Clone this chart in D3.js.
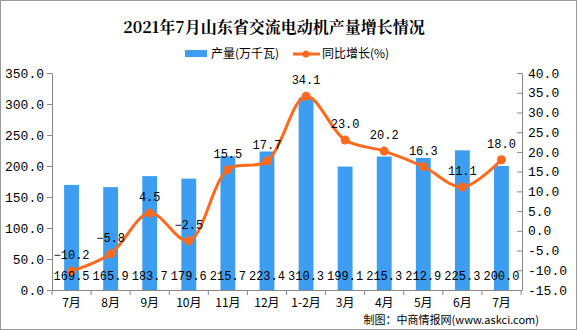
<!DOCTYPE html>
<html><head><meta charset="utf-8">
<script src="https://cdn.jsdelivr.net/npm/d3@7"></script>
<style>body{margin:0;background:#fff}svg{display:block}</style>
</head><body>
<script>
const categories = ["7月","8月","9月","10月","11月","12月","1-2月","3月","4月","5月","6月","7月"];
const output = [169.5,165.9,183.7,179.6,215.7,223.4,310.3,199.1,215.3,212.9,225.3,200.0];
const growth = [-10.2,-5.8,4.5,-2.5,15.5,17.7,34.1,23.0,20.2,16.3,11.1,18.0];
const leftTicks = [0,50,100,150,200,250,300,350];
const rightTicks = [-15,-10,-5,0,5,10,15,20,25,30,35,40];

const W=577,H=330;
const svg=d3.select("body").append("svg").attr("width",W).attr("height",H);
svg.append("rect").attr("x",0.5).attr("y",0.5).attr("width",W-1).attr("height",H-1).attr("fill","#fff").attr("stroke","#999");

const L=52,R=521,T=73,B=290;
const x=d3.scaleBand().domain(d3.range(categories.length)).range([L,R]).paddingInner(0.62).paddingOuter(0.31);
const xb=d3.scaleBand().domain(d3.range(categories.length)).range([L,R]);
const yl=d3.scaleLinear().domain([0,350]).range([B,T]);
const yr=d3.scaleLinear().domain([-15,40]).range([B,T]);
const mono="'Liberation Mono','DejaVu Sans Mono',monospace";
const cjk="'Noto Sans CJK SC',sans-serif";

// title
svg.append("text").attr("x",274).attr("y",33).attr("text-anchor","middle")
  .attr("font-family","'Noto Serif CJK SC','Noto Sans CJK SC',serif").attr("font-weight","bold").attr("font-size",16)
  .text("2021年7月山东省交流电动机产量增长情况");
// legend
svg.append("rect").attr("x",185).attr("y",50).attr("width",22).attr("height",7).attr("fill","#3D9DF0");
svg.append("text").attr("x",211).attr("y",58).attr("font-family",cjk).attr("font-size",12).text("产量(万千瓦)");
svg.append("line").attr("x1",293).attr("x2",320).attr("y1",54).attr("y2",54).attr("stroke","#FF6A1F").attr("stroke-width",3);
svg.append("circle").attr("cx",306).attr("cy",54).attr("r",3.5).attr("fill","#FF6A1F");
svg.append("text").attr("x",322).attr("y",58).attr("font-family",cjk).attr("font-size",12).text("同比增长(%)");

// bars
svg.append("g").selectAll("rect").data(output).join("rect")
  .attr("x",(d,i)=>x(i)).attr("width",x.bandwidth())
  .attr("y",d=>yl(d)).attr("height",d=>B-yl(d)).attr("fill","#3D9DF0");

// axes
const ga=svg.append("g").attr("transform",`translate(${L},0)`)
  .call(d3.axisLeft(yl).tickValues(leftTicks).tickFormat(d3.format(".1f")).tickSize(5).tickSizeOuter(0));
const gr=svg.append("g").attr("transform",`translate(${R+1},0)`)
  .call(d3.axisRight(yr).tickValues(rightTicks).tickFormat(d=>d3.format(".1f")(d).replace("−","-")).tickSize(0).tickSizeOuter(0));
gr.selectAll(".tick line").attr("x1",-5).attr("x2",0);
gr.selectAll(".tick text").attr("x",6);
const gx=svg.append("g").attr("transform",`translate(0,${B})`)
  .call(d3.axisBottom(xb).tickFormat(i=>categories[i]).tickSize(0).tickSizeOuter(0));
gx.selectAll(".tick line").remove();
gx.selectAll(".tick text").attr("dy","0.71em").attr("y",8).attr("font-family",cjk).attr("font-size",12).attr("fill","#000");
svg.append("g").selectAll("line").data(d3.range(categories.length+1)).join("line")
  .attr("x1",i=>L+i*xb.bandwidth()).attr("x2",i=>L+i*xb.bandwidth())
  .attr("y1",B).attr("y2",B+5).attr("stroke","#888");
[ga,gr].forEach(g=>{g.selectAll("text").attr("font-family",mono).attr("font-size",13).attr("fill","#000");});
[ga,gr,gx].forEach(g=>{g.select(".domain").attr("stroke","#888");g.selectAll(".tick line").attr("stroke","#888");});
gr.selectAll(".tick text").text(d=>d3.format(".1f")(d).replace("−","-"));

// line
const cx=i=>x(i)+x.bandwidth()/2;
svg.append("path").datum(growth).attr("fill","none").attr("stroke","#FF6A1F").attr("stroke-width",3)
  .attr("d",d3.line().x((d,i)=>cx(i)).y(d=>yr(d)).curve(d3.curveCatmullRom.alpha(0.5)));
svg.append("g").selectAll("circle").data(growth).join("circle")
  .attr("cx",(d,i)=>cx(i)).attr("cy",d=>yr(d)).attr("r",4.5).attr("fill","#FF6A1F");

// labels
svg.append("g").selectAll("text").data(growth).join("text")
  .attr("x",(d,i)=>cx(i)).attr("y",d=>yr(d)-12).attr("text-anchor","middle")
  .attr("font-family",mono).attr("font-size",12).text(d=>d3.format(".1f")(d));
svg.append("g").selectAll("text").data(output).join("text")
  .attr("x",(d,i)=>cx(i)).attr("y",280).attr("text-anchor","middle")
  .attr("font-family",mono).attr("font-size",12).text(d=>d3.format(".1f")(d));

// source
svg.append("text").attr("x",539).attr("y",324).attr("text-anchor","end").attr("font-family",cjk).attr("font-size",11)
  .text("制图：中商情报网(www.askci.com)");
</script>
</body></html>
